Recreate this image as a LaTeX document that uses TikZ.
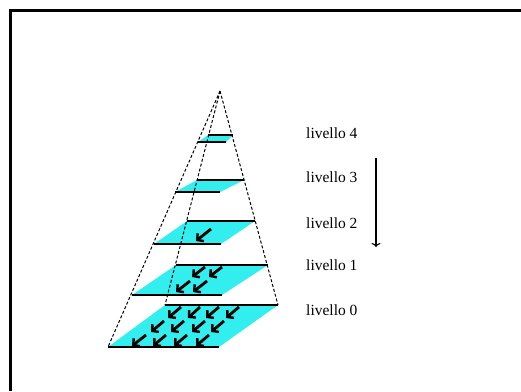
\documentclass[tikz,border=0pt]{standalone}
\usepackage{fontspec}
\setmainfont{Liberation Serif}
\usetikzlibrary{arrows.meta}
\definecolor{lvlcyan}{RGB}{50,238,238}
\tikzset{
  frameline/.style={line width=3pt},
  pyredge/.style={line width=1pt, dash pattern=on 3pt off 2pt},
  lvledge/.style={line width=1.4pt},
  lvlfill/.style={fill=lvlcyan, draw=none},
  bigarrow/.style={line width=2.8pt, -{Straight Barb[length=4.5pt,width=10pt,line width=2.4pt]}},
  lvllabel/.style={anchor=west, inner sep=0pt, font=\fontsize{15.5}{18}\selectfont},
  downarrow/.style={line width=1.1pt, -{To[length=4pt,width=9pt]}}
}
\begin{document}
\begin{tikzpicture}[x=1pt,y=-1pt]
\useasboundingbox (0,0) rectangle (521,391);
% frame (top and left visible)
\draw[frameline] (10.5,391) -- (10.5,10.5) -- (521,10.5);
% apex
\coordinate (apex) at (220,91);
% levels: FL, FR, BR, BL
\coordinate (l4fl) at (198,142); \coordinate (l4fr) at (226,142);
\coordinate (l4br) at (233,135); \coordinate (l4bl) at (208,135);
\coordinate (l3fl) at (175,192); \coordinate (l3fr) at (220,192);
\coordinate (l3br) at (244,180); \coordinate (l3bl) at (197,180);
\coordinate (l2fl) at (154,244); \coordinate (l2fr) at (221,244);
\coordinate (l2br) at (255,221); \coordinate (l2bl) at (187,221);
\coordinate (l1fl) at (132,295); \coordinate (l1fr) at (222,295);
\coordinate (l1br) at (268,265); \coordinate (l1bl) at (176,265);
\coordinate (l0fl) at (108,347); \coordinate (l0fr) at (219,347);
\coordinate (l0br) at (278,305); \coordinate (l0bl) at (165,305);
% fills
\foreach \l in {4,3,2,1,0}{
  \fill[lvlfill] (l\l fl) -- (l\l fr) -- (l\l br) -- (l\l bl) -- cycle;
}
% pyramid edges
\draw[pyredge] (apex) -- (l0fl);
\draw[pyredge] (apex) -- (l0bl);
\draw[pyredge] (apex) -- (l0br);
% level front/back edges
\foreach \l in {4,3,2,1,0}{
  \draw[lvledge] (l\l fl) -- (l\l fr);
  \draw[lvledge] (l\l bl) -- (l\l br);
}
% arrows level 2
\coordinate (a2t) at (211,229); \coordinate (a2h) at (196,241);
\draw[bigarrow] (a2t) -- (a2h);
% arrows level 1
\foreach \tx/\ty/\hx/\hy [count=\i] in {205/267/192/277, 222/267/209/277, 190/281/176/292, 207/281/193/292}{
  \coordinate (b\i t) at (\tx,\ty); \coordinate (b\i h) at (\hx,\hy);
  \draw[bigarrow] (b\i t) -- (b\i h);
}
% arrows level 0
\foreach \tx/\ty/\hx/\hy [count=\i] in {
  181/307/168/318, 200/307/188/318, 219/307/206/318, 239/307/226/318,
  164/321/151/332, 184/321/171/332, 205/321/192/332, 224/321/211/332,
  146/335/132/346, 166/335/153/346, 187/335/174/346, 209/335/196/346}{
  \coordinate (c\i t) at (\tx,\ty); \coordinate (c\i h) at (\hx,\hy);
  \draw[bigarrow] (c\i t) -- (c\i h);
}
% labels
\node[lvllabel] (lab4) at (306,133) {livello 4};
\node[lvllabel] (lab3) at (306,177) {livello 3};
\node[lvllabel] (lab2) at (306,223) {livello 2};
\node[lvllabel] (lab1) at (306,265) {livello 1};
\node[lvllabel] (lab0) at (306,310) {livello 0};
% vertical arrow
\coordinate (vtop) at (376,158);
\coordinate (vbot) at (376,247);
\draw[downarrow] (vtop) -- (vbot);
\end{tikzpicture}
\end{document}
